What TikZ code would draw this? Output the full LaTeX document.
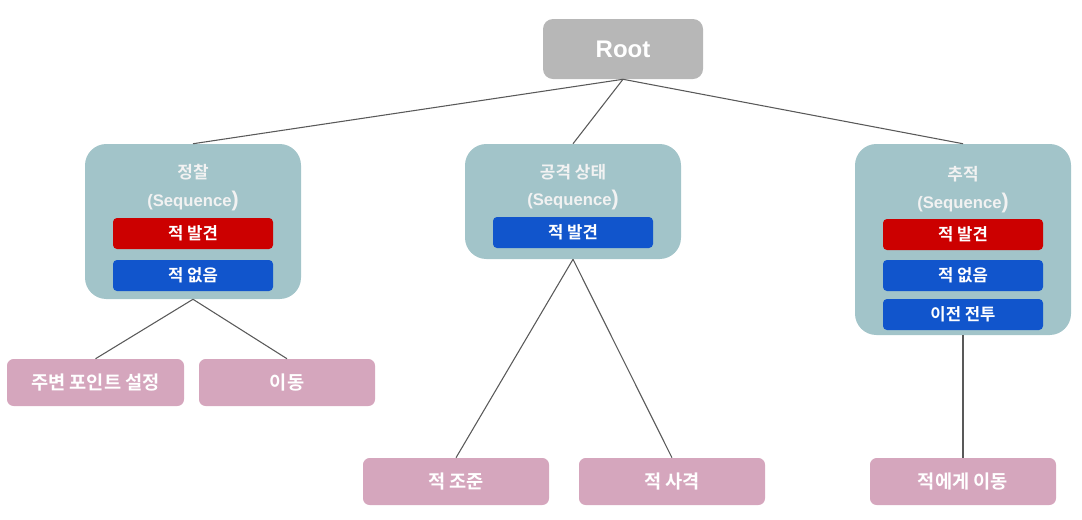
\documentclass[tikz,border=0pt]{standalone}
\usepackage{fontspec}
\setmainfont{Liberation Sans}[BoldFont={Liberation Sans Bold}]
\newfontfamily\kr{Noto Sans CJK KR}[BoldFont={Noto Sans CJK KR Bold}]
\definecolor{rootgray}{HTML}{B7B7B7}
\definecolor{seqteal}{HTML}{A2C4C9}
\definecolor{condred}{HTML}{CC0000}
\definecolor{condblue}{HTML}{1155CC}
\definecolor{leafpink}{HTML}{D5A6BD}
\definecolor{linegray}{HTML}{595959}
\newcommand{\seqlabel}{\textbf{(Sequence{\fontsize{16}{16}\selectfont)}}}
\tikzset{
  rootbox/.style={rectangle,rounded corners=7.5pt,fill=rootgray,text=white,
    minimum width=120pt,minimum height=45pt,font=\bfseries\fontsize{18}{20}\selectfont},
  seqbox/.style={rectangle,rounded corners=16pt,fill=seqteal,minimum width=162pt},
  seqtitle/.style={text=white!95!black,font=\kr\bfseries\fontsize{12.7}{14}\selectfont},
  seqtype/.style={text=white!95!black,font=\bfseries\fontsize{12.5}{14}\selectfont},
  condbox/.style={rectangle,rounded corners=3pt,text=white,
    minimum width=120pt,minimum height=23.25pt,font=\kr\bfseries\fontsize{12.5}{14}\selectfont},
  leafbox/.style={rectangle,rounded corners=5pt,fill=leafpink,text=white,
    minimum height=35.25pt,font=\kr\bfseries\fontsize{14}{16}\selectfont},
  link/.style={draw=linegray,line width=0.8pt}
}
\begin{document}
\begin{tikzpicture}[x=0.75pt,y=-0.75pt]
\useasboundingbox (0,0) rectangle (1082,519);
\node[rootbox] (root) at (623,49) {Root};

\node[seqbox,minimum height=116.25pt] (patrol) at (193,221.5) {};
\node[seqtitle] (patrolname) at (193,172) {정찰};
\node[seqtype] (patroltype) at (193,201) {\seqlabel};
\node[condbox,fill=condred] (patrolfound) at (193,233.5) {적 발견};
\node[condbox,fill=condblue] (patrolnone) at (193,275.5) {적 없음};

\node[seqbox,minimum height=86.25pt] (attack) at (573,201.5) {};
\node[seqtitle] (attackname) at (573,172) {공격 상태};
\node[seqtype] (attacktype) at (573,200) {\seqlabel};
\node[condbox,fill=condblue] (attackfound) at (573,232.5) {적 발견};

\node[seqbox,minimum height=143.25pt] (chase) at (963,239.5) {};
\node[seqtitle] (chasename) at (963,174) {추적};
\node[seqtype] (chasetype) at (963,203) {\seqlabel};
\node[condbox,fill=condred] (chasefound) at (963,234.5) {적 발견};
\node[condbox,fill=condblue] (chasenone) at (963,275.5) {적 없음};
\node[condbox,fill=condblue] (chaseprev) at (963,314.5) {이전 전투};

\node[leafbox,minimum width=132.75pt] (setpoint) at (95.5,382.5) {주변 포인트 설정};
\node[leafbox,minimum width=132pt] (move) at (287,382.5) {이동};
\node[leafbox,minimum width=139.5pt] (aim) at (456,481.5) {적 조준};
\node[leafbox,minimum width=139.5pt] (shoot) at (672,481.5) {적 사격};
\node[leafbox,minimum width=139.5pt] (moveto) at (963,481.5) {적에게 이동};

\draw[link] (root.south) -- (patrol.north);
\draw[link] (root.south) -- (attack.north);
\draw[link] (root.south) -- (chase.north);
\draw[link] (patrol.south) -- (setpoint.north);
\draw[link] (patrol.south) -- (move.north);
\draw[link] (attack.south) -- (aim.north);
\draw[link] (attack.south) -- (shoot.north);
\draw[link] (chase.south) -- (moveto.north);
\end{tikzpicture}
\end{document}
